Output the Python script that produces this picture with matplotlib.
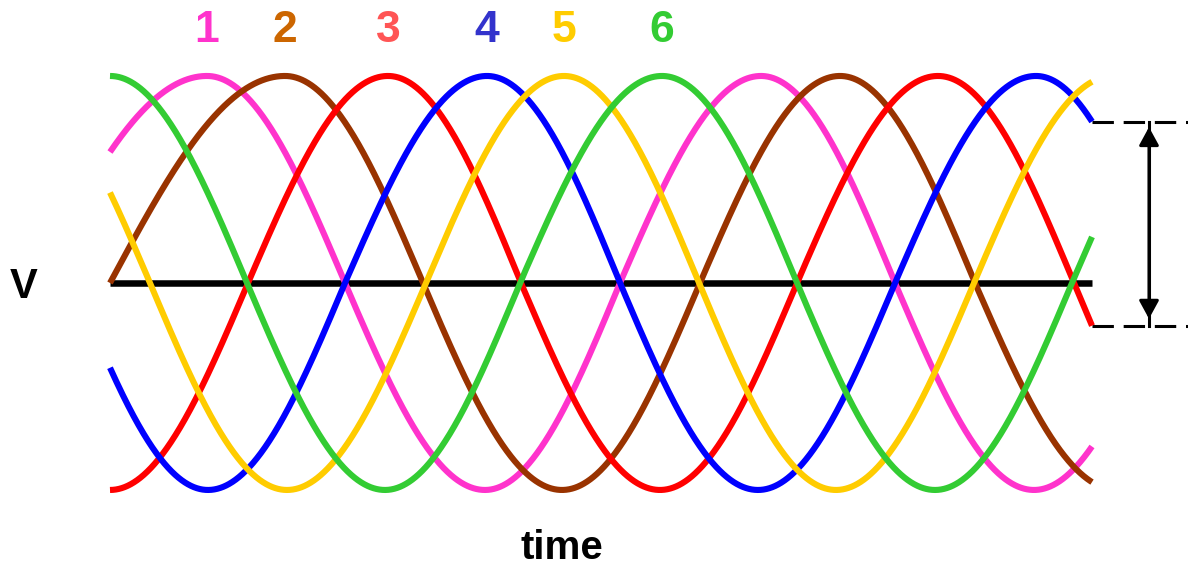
import numpy as np
import matplotlib
matplotlib.use("Agg")
import matplotlib.pyplot as plt

# ---------------- data (time units, level in units of peak voltage) ----------------
phase_labels = ["1", "2", "3", "4", "5", "6"]
line_colors = ["#FF33CC", "#993300", "#FF0000", "#0000FF", "#FFCC00", "#33CC33"]
label_colors = ["#FF33CC", "#CC6600", "#FF5555", "#3333CC", "#FFCC00", "#33CC33"]

# quarter-cycle knot times (zero / peak / zero / trough ...)
pink_knots = [-75, 97, 235, 375, 510, 651, 785, 924, 1062]
brown_knots = [0, 175, 313, 452, 590, 730, 865, 1007]
red_knots = [0, 138, 278, 411, 550, 687, 828, 964, 1100]
blue_knots = [-36, 98, 235, 377, 510, 648, 785, 926, 1056]
yellow_knots = [-99, 40, 177, 316, 454, 589, 726, 864, 1003]
green_knots = [0, 137, 275, 410, 552, 687, 825, 962, 1102]
# level at first knot: index into cycle [0 rising, +1 peak, 0 falling, -1 trough]
start_states = [0, 0, 3, 2, 1, 1]

t_end = 982
x_label = "time"
y_label = "V"

CYCLE = [0, 1, 0, -1]


def wave(knots, start, t):
    levels = [CYCLE[(start + i) % 4] for i in range(len(knots))]
    y = np.zeros_like(t)
    for i in range(len(knots) - 1):
        k0, k1 = knots[i], knots[i + 1]
        v0, v1 = levels[i], levels[i + 1]
        m = (t >= k0) & (t <= k1)
        s = (t[m] - k0) / (k1 - k0)
        if v0 == 0:
            y[m] = v1 * np.sin(np.pi / 2 * s)
        else:
            y[m] = v0 * np.cos(np.pi / 2 * s)
    return y


all_knots = [pink_knots, brown_knots, red_knots, blue_knots, yellow_knots, green_knots]

fig = plt.figure(figsize=(11.88, 5.68), dpi=100)
ax = fig.add_axes([0, 0, 1, 1])
ax.set_xlim(-110, 1078)
ax.set_ylim(-1.377, 1.367)
ax.axis("off")

t = np.linspace(0, t_end, 3000)

# zero line
ax.plot([0, t_end], [0, 0], color="black", lw=4.7, solid_capstyle="butt", zorder=1)

waves = []
for knots, st, col in zip(all_knots, start_states, line_colors):
    y = wave(knots, st, t)
    waves.append(y)
    ax.plot(t, y, color=col, lw=4.4, solid_capstyle="butt", zorder=2)

# phase labels above their first full peaks
for knots, st, lab, col in zip(all_knots, start_states, phase_labels, label_colors):
    levels = [CYCLE[(st + i) % 4] for i in range(len(knots))]
    peak = [k for k, v in zip(knots, levels) if v == 1 and k > 20][0]
    ax.text(peak, 1.164, lab, color=col, fontsize=32, fontweight="bold",
            family="Liberation Sans", ha="center", va="baseline")

# dashed level lines and double arrow at the right end
top_level = waves[3][-1]
bot_level = waves[2][-1]
for lev in (top_level, bot_level):
    ax.plot([t_end, 1078], [lev, lev], color="black", lw=2.2,
            dashes=(7, 3.2), clip_on=False, zorder=1)
xa = 1039
ax.plot([xa, xa], [top_level, bot_level], color="black", lw=2.2, zorder=1)
ax.annotate("", xy=(xa, top_level), xytext=(xa, bot_level),
            arrowprops=dict(arrowstyle="<|-|>,head_length=0.55,head_width=0.3",
                            color="black", lw=2.2, mutation_scale=20,
                            shrinkA=5, shrinkB=4))

ax.text(-86.5, -0.0725, y_label, fontsize=30, fontweight="bold",
        family="Liberation Sans", ha="center", va="baseline")
ax.text(452, -1.333, x_label, fontsize=29, fontweight="bold",
        family="Liberation Sans", ha="center", va="baseline")

fig.savefig("out.png", dpi=100)
